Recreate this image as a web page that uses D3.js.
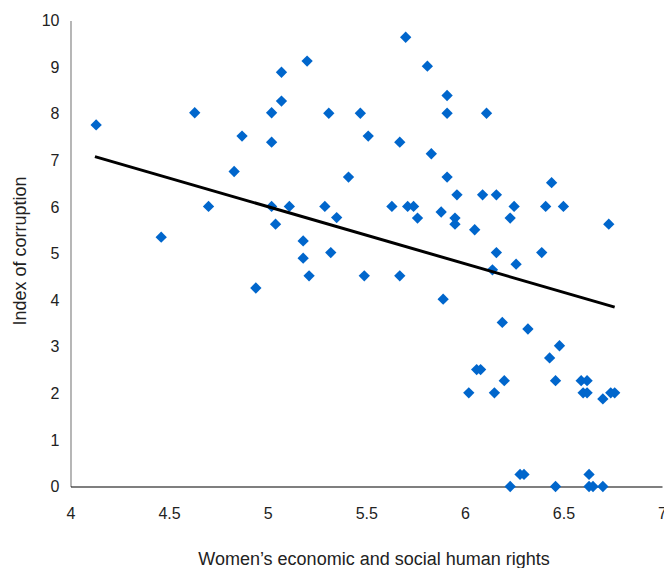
<!DOCTYPE html>
<html>
<head>
<meta charset="utf-8">
<script src="https://cdn.jsdelivr.net/npm/d3@7"></script>
<style>
  html, body { margin: 0; padding: 0; background: #fff; }
  svg { display: block; font-family: "Liberation Sans", Arial, sans-serif; }
</style>
</head>
<body>
<svg id="chart" width="664" height="568"></svg>
<script>
// Women's economic and social human rights (x) vs. index of corruption (y)
const rights = [
  4.13, 4.46, 4.63, 4.70, 4.83, 4.87, 4.94, 5.02, 5.02, 5.07,
  5.07, 5.02, 5.04, 5.11, 5.18, 5.18, 5.21, 5.20, 5.31, 5.29,
  5.32, 5.35, 5.70, 5.81, 5.91, 5.91, 6.11, 5.47, 5.51, 5.67,
  5.83, 5.41, 5.91, 6.44, 5.96, 6.09, 6.16, 5.63, 5.71, 5.74,
  6.25, 6.41, 6.50, 5.76, 5.88, 5.95, 5.95, 6.05, 6.23, 6.73,
  6.16, 6.39, 6.26, 6.14, 5.49, 5.67, 5.89, 6.19, 6.32, 6.48,
  6.43, 6.06, 6.08, 6.20, 6.46, 6.59, 6.62, 6.02, 6.15, 6.60,
  6.62, 6.70, 6.74, 6.76, 6.28, 6.30, 6.63, 6.23, 6.46, 6.63,
  6.65, 6.70
];
const corruption = [
  7.76, 5.35, 8.02, 6.01, 6.76, 7.52, 4.26, 8.02, 7.39, 8.89,
  8.27, 6.01, 5.63, 6.01, 5.27, 4.90, 4.52, 9.13, 8.01, 6.01,
  5.02, 5.77, 9.64, 9.02, 8.39, 8.01, 8.01, 8.01, 7.52, 7.39,
  7.14, 6.64, 6.64, 6.52, 6.26, 6.26, 6.26, 6.01, 6.01, 6.01,
  6.01, 6.01, 6.01, 5.76, 5.89, 5.76, 5.63, 5.51, 5.76, 5.63,
  5.02, 5.02, 4.77, 4.65, 4.52, 4.52, 4.02, 3.52, 3.38, 3.02,
  2.76, 2.51, 2.51, 2.27, 2.27, 2.27, 2.27, 2.01, 2.01, 2.01,
  2.01, 1.88, 2.01, 2.01, 0.26, 0.26, 0.26, 0.00, 0.00, 0.00,
  0.00, 0.00
];

// Linear trend line end points
const trendX = [4.124, 6.76];
const trendY = [7.08, 3.85];

const xTicks = [4, 4.5, 5, 5.5, 6, 6.5, 7];
const yTicks = [0, 1, 2, 3, 4, 5, 6, 7, 8, 9, 10];

const svg = d3.select("#chart");
const plot = { left: 70.5, right: 662, top: 20.5, bottom: 486.5 };

const x = d3.scaleLinear().domain([4, 7]).range([plot.left, plot.right]);
const y = d3.scaleLinear().domain([0, 10]).range([plot.bottom, plot.top]);

const FONT = "Liberation Sans, Arial, sans-serif";

// Y axis
const yAxis = svg.append("g")
  .attr("transform", `translate(${plot.left},0)`)
  .call(d3.axisLeft(y).tickValues(yTicks).tickFormat(d3.format("d")).tickSize(0).tickPadding(11));
yAxis.select(".domain").attr("stroke", "#868686").attr("stroke-width", 1.2);
yAxis.selectAll("text").attr("font-size", 16).attr("fill", "#222").attr("font-family", FONT);

// X axis
const xAxis = svg.append("g")
  .attr("transform", `translate(0,${plot.bottom})`)
  .call(d3.axisBottom(x).tickValues(xTicks).tickFormat(d => String(d)).tickSize(0).tickPadding(21));
xAxis.select(".domain").attr("stroke", "#000").attr("stroke-width", 1.2);
xAxis.selectAll("text").attr("font-size", 16).attr("fill", "#222").attr("font-family", FONT);

// Axis titles
svg.append("text")
  .attr("x", 374).attr("y", 565)
  .attr("text-anchor", "middle")
  .attr("font-size", 18).attr("fill", "#222")
  .text("Women\u2019s economic and social human rights");

svg.append("text")
  .attr("transform", "translate(26,251) rotate(-90)")
  .attr("text-anchor", "middle")
  .attr("font-size", 18).attr("fill", "#222")
  .text("Index of corruption");

// Data points as diamonds
const pts = rights.map((r, i) => ({ x: r, y: corruption[i] }));
svg.append("g").selectAll("path")
  .data(pts)
  .join("path")
  .attr("d", d3.symbol().type(d3.symbolSquare).size(64))
  .attr("transform", d => `translate(${x(d.x)},${y(d.y)}) rotate(45)`)
  .attr("fill", "#0066cc");

// Trend line
svg.append("line")
  .attr("x1", x(trendX[0])).attr("y1", y(trendY[0]))
  .attr("x2", x(trendX[1])).attr("y2", y(trendY[1]))
  .attr("stroke", "#000").attr("stroke-width", 3);
</script>
</body>
</html>
